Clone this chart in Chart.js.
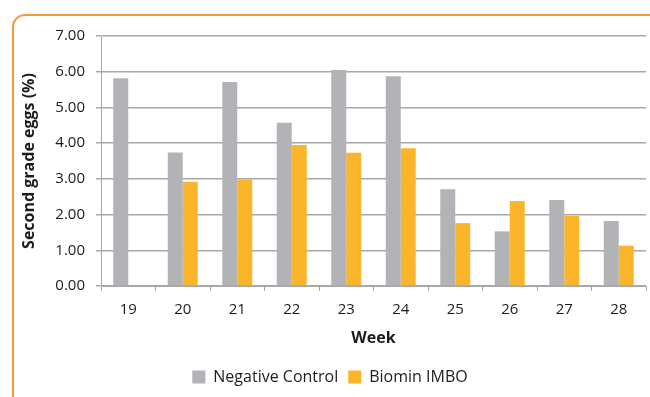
<!DOCTYPE html>
<html>
<head>
<meta charset="utf-8">
<script src="https://cdn.jsdelivr.net/npm/chart.js@4"></script>
<style>
body{margin:0;background:#fff;}
#wrap{position:relative;width:650px;height:397px;overflow:hidden;}
#frame{position:absolute;left:12px;top:14px;width:660px;height:400px;border:2px solid #f39a33;border-radius:13px;box-sizing:border-box;}
#c{position:absolute;left:0;top:0;}
</style>
</head>
<body>
<div id="wrap">
<div id="frame"></div>
<canvas id="c" width="650" height="397"></canvas>
</div>
<script>
// weeks on the x axis
const weeks = ["19","20","21","22","23","24","25","26","27","28"];
// second grade eggs (%)
const negativeControl = [5.82, 3.74, 5.71, 4.57, 6.05, 5.87, 2.71, 1.53, 2.41, 1.82];
const biominImbo = [null, 2.92, 2.98, 3.95, 3.73, 3.86, 1.76, 2.38, 1.96, 1.13];
const yTicks = [0, 1, 2, 3, 4, 5, 6, 7];

const txt = "#1e1b1c";
const gridCol = "#a8a8a8";

new Chart(document.getElementById("c"), {
type: "bar",
data: {
labels: weeks,
datasets: [{
label: "Negative Control",
data: negativeControl,
backgroundColor: "#b2b3b6",
barPercentage: 1,
categoryPercentage: 0.55
},{
label: "Biomin IMBO",
data: biominImbo,
backgroundColor: "#fbb52a",
barPercentage: 1,
categoryPercentage: 0.55
}]
},
options: {
responsive: false,
animation: false,
layout: {padding: {left: 14, right: 4, top: 36, bottom: 2}},
plugins: {
tooltip: {enabled: false},
legend: {
position: "bottom",
labels: {
font: {family: "Open Sans", size: 16},
color: txt,
boxWidth: 13,
boxHeight: 13,
padding: 10
}
}
},
scales: {
x: {
afterFit: s => { s.height = 73; },
grid: {drawOnChartArea: false, color: gridCol, tickLength: 5, lineWidth: 1},
border: {color: gridCol},
ticks: {font: {family: "Open Sans", size: 15}, color: txt, padding: 10},
title: {display: true, text: "Week", font: {family: "Open Sans", size: 16, weight: "bold"}, color: txt, padding: {top: 4, bottom: 11}}
},
y: {
min: 0,
max: 7,
afterFit: s => { s.width = 87; },
afterBuildTicks: s => { s.ticks = yTicks.map(v => ({value: v})); },
grid: {color: gridCol, lineWidth: 1.5, tickLength: 5},
border: {color: gridCol},
ticks: {font: {family: "Open Sans", size: 15}, color: txt, padding: 11, callback: v => v.toFixed(2)},
title: {display: true, text: "Second grade eggs (%)", font: {family: "Open Sans", size: 16, weight: "bold"}, color: txt, padding: {top: 6, bottom: 0}}
}
}
}
});
</script>
</body>
</html>
